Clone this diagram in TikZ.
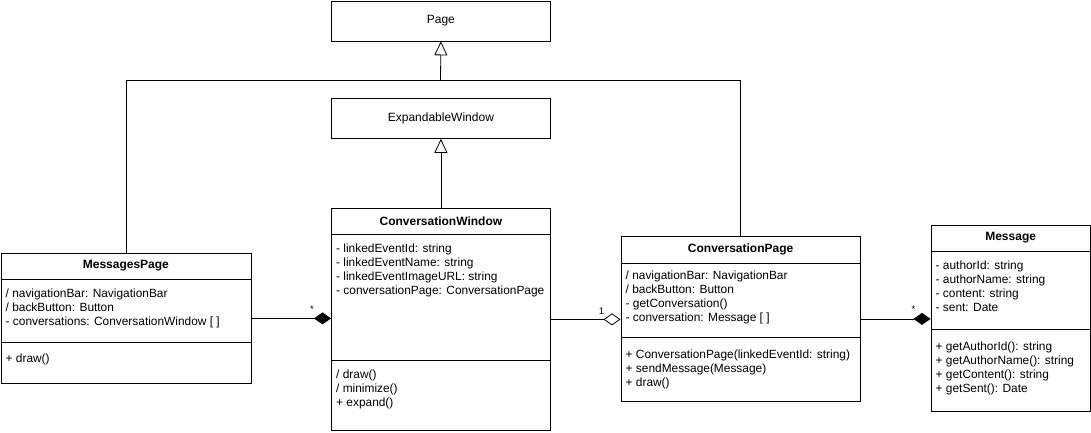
\documentclass[tikz,border=0pt]{standalone}
\usepackage{fontspec}
\setmainfont{Liberation Sans}
\usetikzlibrary{arrows.meta,positioning}

\tikzset{
  classbox/.style={draw, line width=0.8pt, anchor=north west, inner sep=0pt,
                   font=\fontsize{12}{14}\selectfont},
  title/.style={font=\fontsize{12}{14}\selectfont\bfseries, inner sep=0pt},
  members/.style={anchor=north west, align=left, inner sep=0pt,
                  font=\fontsize{11.9}{14}\selectfont},
  extends/.style={-{Triangle[open,length=14pt,width=13pt]}, line width=0.8pt},
  composition/.style={-{Diamond[length=17pt,width=12pt]}, line width=0.8pt},
  aggregation/.style={-{Diamond[open,length=17pt,width=12pt]}, line width=0.8pt},
  mult/.style={font=\fontsize{9.5}{10}\selectfont, inner sep=0pt}
}

\begin{document}
\begin{tikzpicture}[x=1pt,y=-1pt]
        \useasboundingbox (0,0) rectangle (1091,432);

        % abstract parents
        \node[classbox, minimum width=219pt, minimum height=40pt] (page) at (331,0.5) {Page};
        \node[classbox, minimum width=219pt, minimum height=40pt] (expwin) at (331,98) {ExpandableWindow};

        % MessagesPage
        \node[classbox, minimum width=250pt, minimum height=130pt] (msgpage) at (0.5,253) {};
        \draw[line width=0.8pt] ([yshift=-26pt]msgpage.north west) -- ([yshift=-26pt]msgpage.north east);
        \draw[line width=0.8pt] ([yshift=-89pt]msgpage.north west) -- ([yshift=-89pt]msgpage.north east);
        \node[title] at ([yshift=-13pt]msgpage.north) {MessagesPage};
        \node[members] at ([shift={(5pt,-36pt)}]msgpage.north west) {/ navigationBar: NavigationBar\\/ backButton: Button\\- conversations: ConversationWindow [ ]};
        \node[members] at ([shift={(5pt,-101pt)}]msgpage.north west) {+ draw()};

        % ConversationWindow
        \node[classbox, minimum width=219pt, minimum height=222pt] (convwin) at (331,208) {};
        \draw[line width=0.8pt] ([yshift=-26pt]convwin.north west) -- ([yshift=-26pt]convwin.north east);
        \draw[line width=0.8pt] ([yshift=-152pt]convwin.north west) -- ([yshift=-152pt]convwin.north east);
        \node[title] at ([yshift=-13pt]convwin.north) {ConversationWindow};
        \node[members] at ([shift={(5pt,-36pt)}]convwin.north west) {- linkedEventId: string\\- linkedEventName: string\\- linkedEventImageURL: string\\- conversationPage: ConversationPage};
        \node[members] at ([shift={(5pt,-162pt)}]convwin.north west) {/ draw()\\/ minimize()\\+ expand()};

        % ConversationPage
        \node[classbox, minimum width=239.5pt, minimum height=165pt] (convpage) at (620.5,236) {};
        \draw[line width=0.8pt] ([yshift=-27pt]convpage.north west) -- ([yshift=-27pt]convpage.north east);
        \draw[line width=0.8pt] ([yshift=-101pt]convpage.north west) -- ([yshift=-101pt]convpage.north east);
        \node[title] at ([yshift=-13.5pt]convpage.north) {ConversationPage};
        \node[members] at ([shift={(5pt,-35pt)}]convpage.north west) {/ navigationBar: NavigationBar\\/ backButton: Button\\- getConversation()\\- conversation: Message [ ]};
        \node[members] at ([shift={(5pt,-114pt)}]convpage.north west) {+ ConversationPage(linkedEventId: string)\\+ sendMessage(Message)\\+ draw()};

        % Message
        \node[classbox, minimum width=159.5pt, minimum height=186pt] (message) at (930.5,225) {};
        \draw[line width=0.8pt] ([yshift=-26pt]message.north west) -- ([yshift=-26pt]message.north east);
        \draw[line width=0.8pt] ([yshift=-104pt]message.north west) -- ([yshift=-104pt]message.north east);
        \node[title] at ([yshift=-13pt]message.north) {Message};
        \node[members] at ([shift={(5pt,-36pt)}]message.north west) {- authorId: string\\- authorName: string\\- content: string\\- sent: Date};
        \node[members] at ([shift={(5pt,-117pt)}]message.north west) {+ getAuthorId(): string\\+ getAuthorName(): string\\+ getContent(): string\\+ getSent(): Date};

        % inheritance
        \coordinate (join) at (440.5,80);
        \draw[line width=0.8pt] (msgpage.north) |- (join);
        \draw[line width=0.8pt] (convpage.north) |- (join);
        \draw[extends] (join) -- (page.south);
        \draw[extends] (convwin.north) -- (expwin.south);

        % associations
        \draw[composition] (msgpage.east) -- (msgpage.east -| convwin.west);
        \draw[aggregation] (convwin.east) -- (convwin.east -| convpage.west);
        \draw[composition] (convpage.east) -- (convpage.east -| message.west);
        \node[mult] at ([shift={(-19pt,10pt)}]convwin.west) {*};
        \node[mult] at ([shift={(-19pt,7.5pt)}]convpage.west) {1};
        \node[mult] at ([shift={(-17pt,9pt)}]message.west) {*};
\end{tikzpicture}
\end{document}
